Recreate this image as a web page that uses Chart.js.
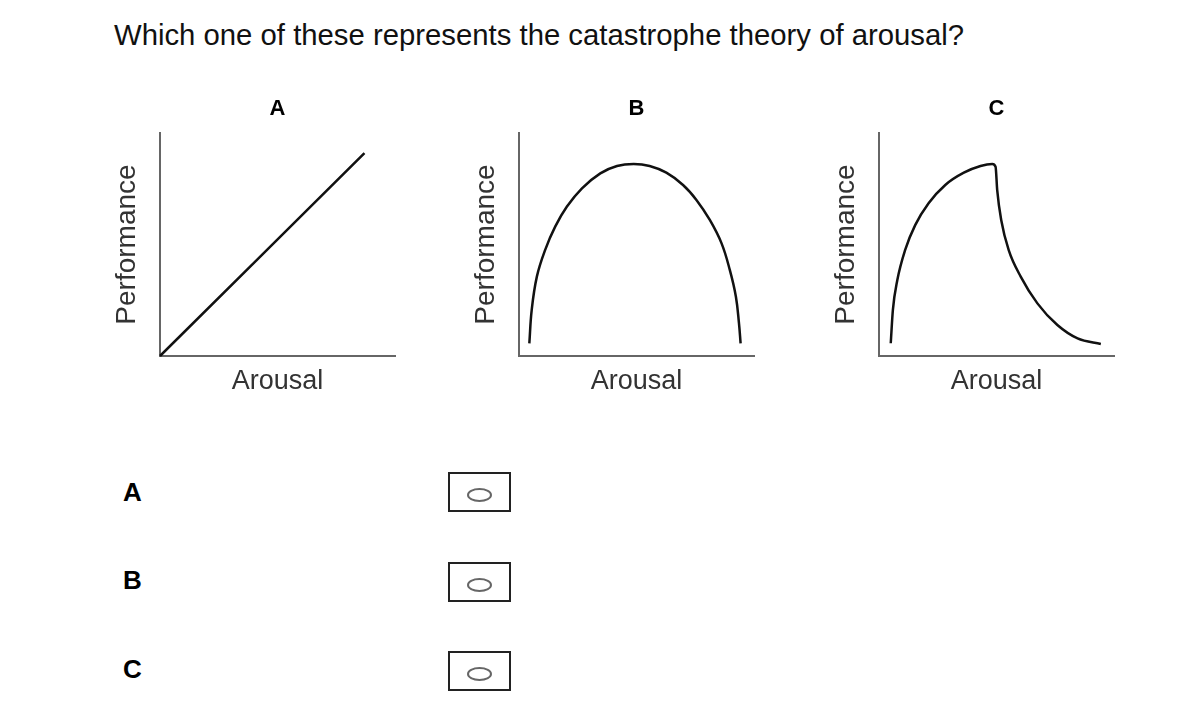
<!DOCTYPE html>
<html>
<head>
<meta charset="utf-8">
<title>Catastrophe theory of arousal</title>
<script src="https://cdn.jsdelivr.net/npm/chart.js@4.4.0/dist/chart.umd.min.js"></script>
<style>
  body { margin: 0; background: #fff; font-family: "Liberation Sans", Arial, sans-serif; }
  #page { position: relative; width: 1184px; height: 717px; overflow: hidden; }
  #question { position: absolute; left: 114px; top: 20px; font-size: 29.3px; line-height: 29px; color: #111; white-space: nowrap; }
  .graph { position: absolute; top: 90px; width: 310px; height: 310px; }
  .opt { position: absolute; left: 123px; font-size: 26px; line-height: 26px; font-weight: bold; color: #000; }
  .tick { position: absolute; left: 448px; width: 63px; height: 40px; box-sizing: border-box; border: 2px solid #222; }
  .tick span { position: absolute; left: 17px; top: 14px; width: 25px; height: 14px; box-sizing: border-box; border: 2px solid #666; border-radius: 50%; }
</style>
</head>
<body>
<div id="page">
  <div id="question"></div>
  <div class="graph" style="left:100px"><canvas id="graphA" width="310" height="310"></canvas></div>
  <div class="graph" style="left:459px"><canvas id="graphB" width="310" height="310"></canvas></div>
  <div class="graph" style="left:819px"><canvas id="graphC" width="310" height="310"></canvas></div>
  <div id="options"></div>
</div>
<script>
// text
var questionText = "Which one of these represents the catastrophe theory of arousal?";
var graphTitles = ["A", "B", "C"];
var xAxisLabel = "Arousal";
var yAxisLabel = "Performance";
var answerLabels = ["A", "B", "C"];

// curves, both axes 0..100
var arousalA = [0, 87];
var performanceA = [0, 91];

var arousalB = [4.4, 5.4, 7.6, 11.1, 15.4, 20.4, 26.8, 34.6, 41.7, 48.8, 55.6, 62.7, 69.8, 75.5, 81.2, 86.2, 89.7, 92.3, 93.6, 94.3];
var performanceB = [5.7, 20.6, 35.6, 47.5, 58.0, 67.0, 75.2, 81.9, 85.2, 86.1, 85.2, 82.2, 76.7, 70.0, 61.0, 50.5, 38.6, 26.6, 14.7, 5.7];

var arousalC = [5.0, 5.9, 7.8, 11.1, 15.4, 21.1, 28.2, 36.1, 43.2, 48.2, 49.6, 50.3, 52.0, 55.2, 60.3, 67.4, 75.9, 84.5, 94.4];
var performanceC = [5.7, 20.6, 34.1, 47.5, 58.7, 68.5, 76.7, 82.2, 85.2, 86.1, 84.9, 74.4, 61.0, 47.5, 35.6, 23.6, 13.9, 7.9, 5.4];

function toPoints(xs, ys){
    var pts = [];
    for (var i = 0; i < xs.length; i++){
        pts.push({x: xs[i], y: ys[i]});
    }
    return pts;
}

function makeGraph(canvasId, title, xs, ys, mode){
    new Chart(document.getElementById(canvasId), {
        type: "line",
        data: {
            datasets: [{
                data: toPoints(xs, ys),
                borderColor: "#111",
                borderWidth: 2.5,
                pointRadius: 0,
                cubicInterpolationMode: mode,
                tension: 0.4,
                fill: false,
                clip: false
            }]
        },
        options: {
            responsive: false,
            animation: false,
            layout: { padding: { left: 0, right: 15, top: 0, bottom: 0 } },
            plugins: {
                legend: { display: false },
                tooltip: { enabled: false },
                title: {
                    display: true,
                    text: title,
                    fullSize: false,
                    color: "#000",
                    font: { family: "Liberation Sans, Arial, sans-serif", size: 22, weight: "bold", lineHeight: 1.2 },
                    padding: { top: 5.6, bottom: 11 }
                }
            },
            scales: {
                x: {
                    type: "linear",
                    min: 0,
                    max: 100,
                    grid: { display: false },
                    ticks: { display: false },
                    border: { display: true, color: "#666", width: 2 },
                    title: {
                        display: true,
                        text: xAxisLabel,
                        color: "#333",
                        font: { family: "Liberation Sans, Arial, sans-serif", size: 27, lineHeight: 1.2 },
                        padding: { top: 0, bottom: 2 }
                    },
                    afterFit: function(axis){ axis.height = 44; }
                },
                y: {
                    min: 0,
                    max: 100,
                    grid: { display: false },
                    ticks: { display: false },
                    border: { display: true, color: "#666", width: 2 },
                    title: {
                        display: true,
                        text: yAxisLabel,
                        color: "#333",
                        font: { family: "Liberation Sans, Arial, sans-serif", size: 28, lineHeight: 1.2 },
                        padding: { top: 10, bottom: 0 }
                    },
                    afterFit: function(axis){ axis.width = 60; }
                }
            }
        }
    });
}

document.getElementById("question").textContent = questionText;

makeGraph("graphA", graphTitles[0], arousalA, performanceA, "default");
makeGraph("graphB", graphTitles[1], arousalB, performanceB, "default");
makeGraph("graphC", graphTitles[2], arousalC, performanceC, "monotone");

// answer rows with empty option boxes
var optTops = [479, 567, 656];
var boxTops = [472, 562, 651];
var opts = document.getElementById("options");
for (var i = 0; i < answerLabels.length; i++){
    opts.insertAdjacentHTML("beforeend",
        `<div class="opt" style="top:${optTops[i]}px">${answerLabels[i]}</div>` +
        `<div class="tick" style="top:${boxTops[i]}px"><span></span></div>`);
}
</script>
</body>
</html>
